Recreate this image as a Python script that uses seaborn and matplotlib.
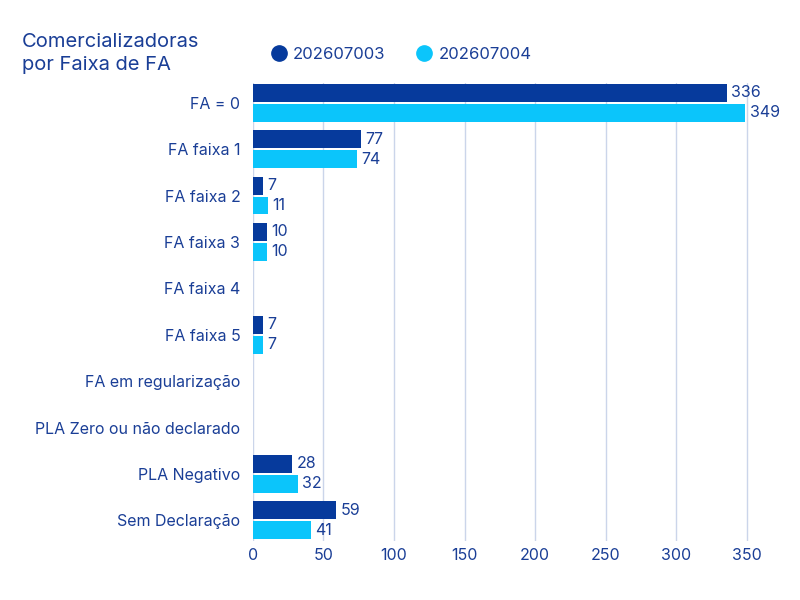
import numpy as np
import pandas as pd
import matplotlib
matplotlib.use("Agg")
import matplotlib.pyplot as plt
from matplotlib.lines import Line2D
import seaborn as sns

categories = ["FA = 0", "FA faixa 1", "FA faixa 2", "FA faixa 3", "FA faixa 4",
              "FA faixa 5", "FA em regularização", "PLA Zero ou não declarado",
              "PLA Negativo", "Sem Declaração"]
series_names = ["202607003", "202607004"]
values_a = [336, 77, 7, 10, np.nan, 7, np.nan, np.nan, 28, 59]
values_b = [349, 74, 11, 10, np.nan, 7, np.nan, np.nan, 32, 41]
x_ticks = [0, 50, 100, 150, 200, 250, 300, 350]

dark = "#063A9C"
cyan = "#0BC5FB"
text_c = "#1A3E96"
grid_c = "#CBD5EA"

df = pd.DataFrame({
    "cat": categories * 2,
    "serie": [series_names[0]] * len(categories) + [series_names[1]] * len(categories),
    "val": list(values_a) + list(values_b),
})

sns.set_theme(style="white")
plt.rcParams["font.family"] = ["Inter", "DejaVu Sans"]

fig = plt.figure(figsize=(8, 6), dpi=100)
ax = fig.add_axes([0.316, 0.098, 0.621, 0.764])

sns.barplot(data=df, y="cat", x="val", hue="serie", order=categories,
            hue_order=series_names, palette=[dark, cyan], orient="h",
            width=0.86, gap=0.1, ax=ax, legend=False, errorbar=None,
            saturation=1, linewidth=0, edgecolor="none")

for cont in ax.containers:
    vals = cont.datavalues
    labels = ["" if (v != v) else f"{v:.0f}" for v in vals]
    ax.bar_label(cont, labels=labels, padding=3, color=text_c, fontsize=11.5)

ax.set_xlim(0, 352)
ax.set_ylim(len(categories) - 1 + 0.45, -0.43)
ax.set_xticks(x_ticks)
ax.set_xlabel("")
ax.set_ylabel("")
for s in ax.spines.values():
    s.set_visible(False)
ax.grid(axis="x", color=grid_c, linewidth=1)
ax.grid(axis="y", visible=False)
ax.set_axisbelow(True)
ax.tick_params(axis="y", length=0, pad=9, labelsize=11.5, labelcolor=text_c)
ax.tick_params(axis="x", length=0, pad=5, labelsize=11.5, labelcolor=text_c)

fig.text(0.0275, 0.945, "Comercializadoras\npor Faixa de FA", color=text_c,
         fontsize=14.5, va="top", ha="left", linespacing=1.35)

handles = [Line2D([], [], marker="o", linestyle="none", markersize=11,
                  markerfacecolor=c, markeredgecolor=c) for c in [dark, cyan]]
fig.legend(handles, series_names, loc="center left", bbox_to_anchor=(0.317, 0.909),
           ncol=2, frameon=False, fontsize=12, labelcolor=text_c,
           handletextpad=0.25, columnspacing=1.75, handlelength=1.2)

fig.savefig("out.png", dpi=100)
